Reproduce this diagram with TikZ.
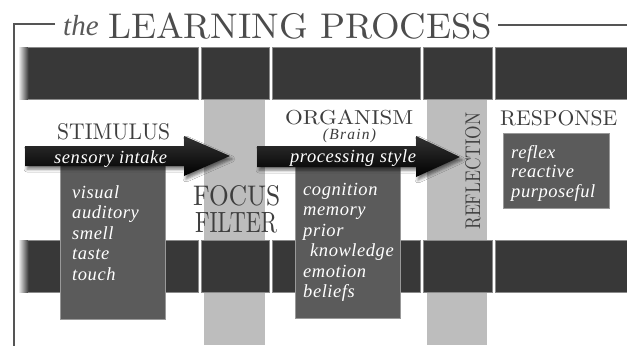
\documentclass[tikz,border=0pt]{standalone}
\usepackage{fontspec}
\usepackage{graphicx}
\usetikzlibrary{shadows.blur}
\newfontfamily\itf[LetterSpace=3]{Liberation Serif}
\newfontfamily\itw[LetterSpace=8]{Liberation Serif}
\newfontfamily\itn{Liberation Serif}
\definecolor{band}{HTML}{383838}
\definecolor{bandedge}{HTML}{8A8A8A}
\definecolor{colgray}{HTML}{BDBDBD}
\definecolor{boxgray}{HTML}{5B5B5B}
\definecolor{ink}{HTML}{3E3E3E}
\definecolor{rulegray}{HTML}{555555}
\tikzset{
  bandseg/.style={fill=band, draw=bandedge, line width=0.7pt},
  colbar/.style={fill=colgray},
  itembox/.style={fill=boxgray, draw=black!40, line width=0.7pt},
  bigarrow/.style={top color=black!80, bottom color=black, draw=none,
    blur shadow={shadow xshift=2pt, shadow yshift=-3pt, shadow opacity=55, shadow blur radius=3pt}},
  caps/.style={anchor=base west, inner sep=0pt, text=ink},
  arrowtext/.style={anchor=base west, inner sep=0pt, text=white, font=\fontsize{18.5}{20.5}\itf\itshape},
  listtext/.style={anchor=base west, inner sep=0pt, text=white, font=\fontsize{18.5}{20.5}\itf\itshape},
  frameline/.style={draw=rulegray, line width=2.2pt},
}
\begin{document}
\begin{tikzpicture}[x=1pt,y=-1pt]
\useasboundingbox (0,0) rectangle (627,346);
\fill[white] (0,0) rectangle (627,346);
% light columns
\fill[colbar] (204,99) rectangle (265,345);
\fill[colbar] (427,99) rectangle (487,345);
% bands
\foreach \yt/\yb in {47/99,240/292}{
  \fill[band] (28,\yt) rectangle (198,\yb);
  \shade[left color=white, right color=band] (18,\yt) rectangle (28.5,\yb);
  \draw[bandedge, line width=0.7pt] (28,\yt) -- (198,\yt) -- (198,\yb) -- (28,\yb);
  \foreach \a/\b in {201/269,272/420,423/492,495/628}{
    \draw[bandseg] (\a,\yt) rectangle (\b,\yb);
  }
}
% item boxes
\draw[itembox] (60,162) rectangle (165,319);
\draw[itembox] (295,162) rectangle (400,318);
\draw[itembox] (503,133) rectangle (609,208);
% arrows
\path[bigarrow] (25,146) -- (184,146) -- (184,136) -- (230,156) -- (184,176) -- (184,166) -- (25,166) -- cycle;
\path[bigarrow] (257,146) -- (416,146) -- (416,136) -- (460,157) -- (416,177) -- (416,167) -- (257,167) -- cycle;
% frame
\draw[frameline] (55,24) -- (14,24) -- (14,346);
\draw[frameline] (498,25) -- (627,25);
% title
\node[anchor=base west, inner sep=0pt, text=black!65] (the) at (63,35) {\fontsize{29}{29}\itn\itshape the};
\node[caps, text=black!70] (title) at (108,38) {\resizebox{384pt}{25.5pt}{LEARNING PROCESS}};
% headings
\node[caps] (stim) at (57,139) {\resizebox{113pt}{16pt}{STIMULUS}};
\node[caps] (org) at (285,124.5) {\resizebox{128pt}{14.5pt}{ORGANISM}};
\node[anchor=base, inner sep=0pt, text=ink, font=\fontsize{15.5}{18}\itw\itshape] (brain) at (349.5,139.5) {(Brain)};
\node[caps] (resp) at (500,125) {\resizebox{117pt}{15pt}{RESPONSE}};
\node[caps] (focus) at (193,205) {\resizebox{87pt}{20pt}{FOCUS}};
\node[caps] (filter) at (195,232) {\resizebox{82pt}{20pt}{FILTER}};
\node[caps, rotate=90] (refl) at (480,230) {\resizebox{117pt}{15pt}{REFLECTION}};
% arrow texts
\node[arrowtext] (sens) at (54,163) {sensory intake};
\node[arrowtext] (proc) at (290,162) {processing style};
% lists
\node[listtext] (slist) at (72,198) {\begin{tabular}[t]{@{}l@{}}visual\\auditory\\smell\\taste\\touch\end{tabular}};
\node[listtext] (olist) at (303,195) {\begin{tabular}[t]{@{}l@{}}cognition\\memory\\prior\\\hspace{7pt}knowledge\\emotion\\beliefs\end{tabular}};
\node[listtext, font=\fontsize{18.5}{19.5}\itf\itshape] (rlist) at (511,158) {\begin{tabular}[t]{@{}l@{}}reflex\\reactive\\purposeful\end{tabular}};
\end{tikzpicture}
\end{document}
